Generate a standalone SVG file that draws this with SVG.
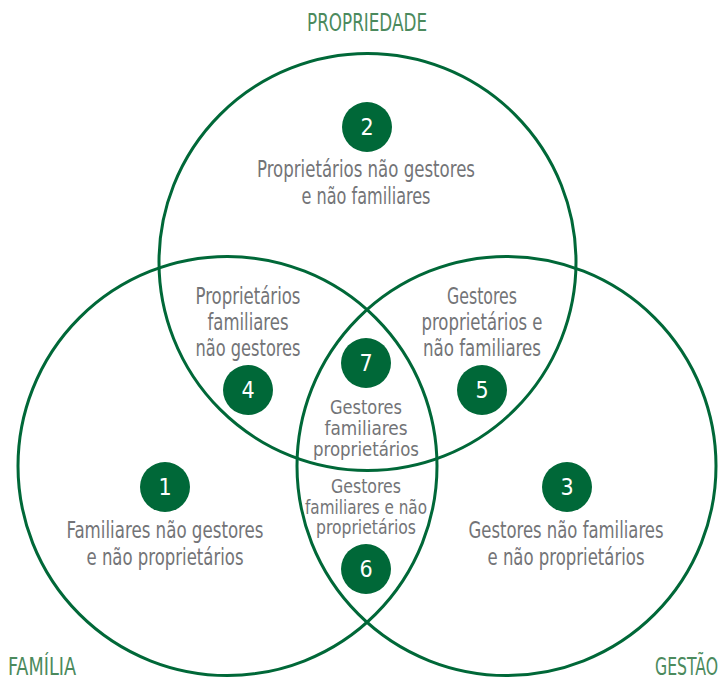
<svg xmlns="http://www.w3.org/2000/svg" width="724" height="680" viewBox="0 0 724 680">
  <style>
    .set { fill: none; stroke: #006838; stroke-width: 3; }
    .badge { fill: #006838; }
    .num { fill: #ffffff; font-family: "Liberation Sans Narrow", "DejaVu Sans Condensed", "Liberation Sans", sans-serif; font-size: 23px; text-anchor: middle; }
    .txt { fill: #737477; font-family: "Liberation Sans Narrow", "DejaVu Sans Condensed", "Liberation Sans", sans-serif; font-size: 22.5px; text-anchor: middle; }
    .lens { font-size: 20px; }
    .title { fill: #4b8a5d; font-family: "Liberation Sans Narrow", "DejaVu Sans Condensed", "Liberation Sans", sans-serif; font-size: 24px; }
  </style>

  <!-- the three overlapping sets -->
  <g id="sets">
    <circle id="set-propriedade" class="set" cx="367.5" cy="262" r="208.5"/>
    <circle id="set-familia" class="set" cx="227.5" cy="466" r="209.5"/>
    <circle id="set-gestao" class="set" cx="506.5" cy="466" r="209.5"/>
  </g>

  <!-- set titles -->
  <g id="titles">
    <text class="title" x="367" y="31" text-anchor="middle" textLength="120" lengthAdjust="spacingAndGlyphs">PROPRIEDADE</text>
    <text class="title" x="8" y="675" textLength="68" lengthAdjust="spacingAndGlyphs">FAMÍLIA</text>
    <text class="title" x="655" y="675" textLength="63" lengthAdjust="spacingAndGlyphs">GESTÃO</text>
  </g>

  <!-- 1: family only -->
  <g id="node-1">
    <circle class="badge" cx="165" cy="487" r="25"/>
    <text class="num" x="165" y="495">1</text>
    <text class="txt" x="165" y="538" textLength="197" lengthAdjust="spacingAndGlyphs">Familiares não gestores</text>
    <text class="txt" x="165" y="565" textLength="157" lengthAdjust="spacingAndGlyphs">e não proprietários</text>
  </g>

  <!-- 2: ownership only -->
  <g id="node-2">
    <circle class="badge" cx="367" cy="127" r="25"/>
    <text class="num" x="367" y="135">2</text>
    <text class="txt" x="366" y="177" textLength="218" lengthAdjust="spacingAndGlyphs">Proprietários não gestores</text>
    <text class="txt" x="366" y="204" textLength="129" lengthAdjust="spacingAndGlyphs">e não familiares</text>
  </g>

  <!-- 3: management only -->
  <g id="node-3">
    <circle class="badge" cx="567" cy="487" r="25"/>
    <text class="num" x="567" y="495">3</text>
    <text class="txt" x="566" y="538" textLength="195" lengthAdjust="spacingAndGlyphs">Gestores não familiares</text>
    <text class="txt" x="566" y="565" textLength="157" lengthAdjust="spacingAndGlyphs">e não proprietários</text>
  </g>

  <!-- 4: family + ownership -->
  <g id="node-4">
    <text class="txt" x="248" y="304" textLength="105" lengthAdjust="spacingAndGlyphs">Proprietários</text>
    <text class="txt" x="248" y="330" textLength="81" lengthAdjust="spacingAndGlyphs">familiares</text>
    <text class="txt" x="248" y="356" textLength="105" lengthAdjust="spacingAndGlyphs">não gestores</text>
    <circle class="badge" cx="248" cy="390" r="25"/>
    <text class="num" x="248" y="398">4</text>
  </g>

  <!-- 5: management + ownership -->
  <g id="node-5">
    <text class="txt" x="482" y="304" textLength="70" lengthAdjust="spacingAndGlyphs">Gestores</text>
    <text class="txt" x="482" y="330" textLength="121" lengthAdjust="spacingAndGlyphs">proprietários e</text>
    <text class="txt" x="482" y="356" textLength="118" lengthAdjust="spacingAndGlyphs">não familiares</text>
    <circle class="badge" cx="482" cy="390" r="25"/>
    <text class="num" x="482" y="398">5</text>
  </g>

  <!-- 7: all three sets -->
  <g id="node-7">
    <circle class="badge" cx="366" cy="363" r="25"/>
    <text class="num" x="366" y="371">7</text>
    <text class="txt lens" x="366" y="414" textLength="72" lengthAdjust="spacingAndGlyphs">Gestores</text>
    <text class="txt lens" x="366" y="435" textLength="83" lengthAdjust="spacingAndGlyphs">familiares</text>
    <text class="txt lens" x="366" y="456" textLength="106" lengthAdjust="spacingAndGlyphs">proprietários</text>
  </g>

  <!-- 6: family + management -->
  <g id="node-6">
    <text class="txt lens" x="366" y="493" textLength="70" lengthAdjust="spacingAndGlyphs">Gestores</text>
    <text class="txt lens" x="366" y="514" textLength="122" lengthAdjust="spacingAndGlyphs">familiares e não</text>
    <text class="txt lens" x="366" y="534" textLength="100" lengthAdjust="spacingAndGlyphs">proprietários</text>
    <circle class="badge" cx="366" cy="569" r="25"/>
    <text class="num" x="366" y="577">6</text>
  </g>
</svg>
